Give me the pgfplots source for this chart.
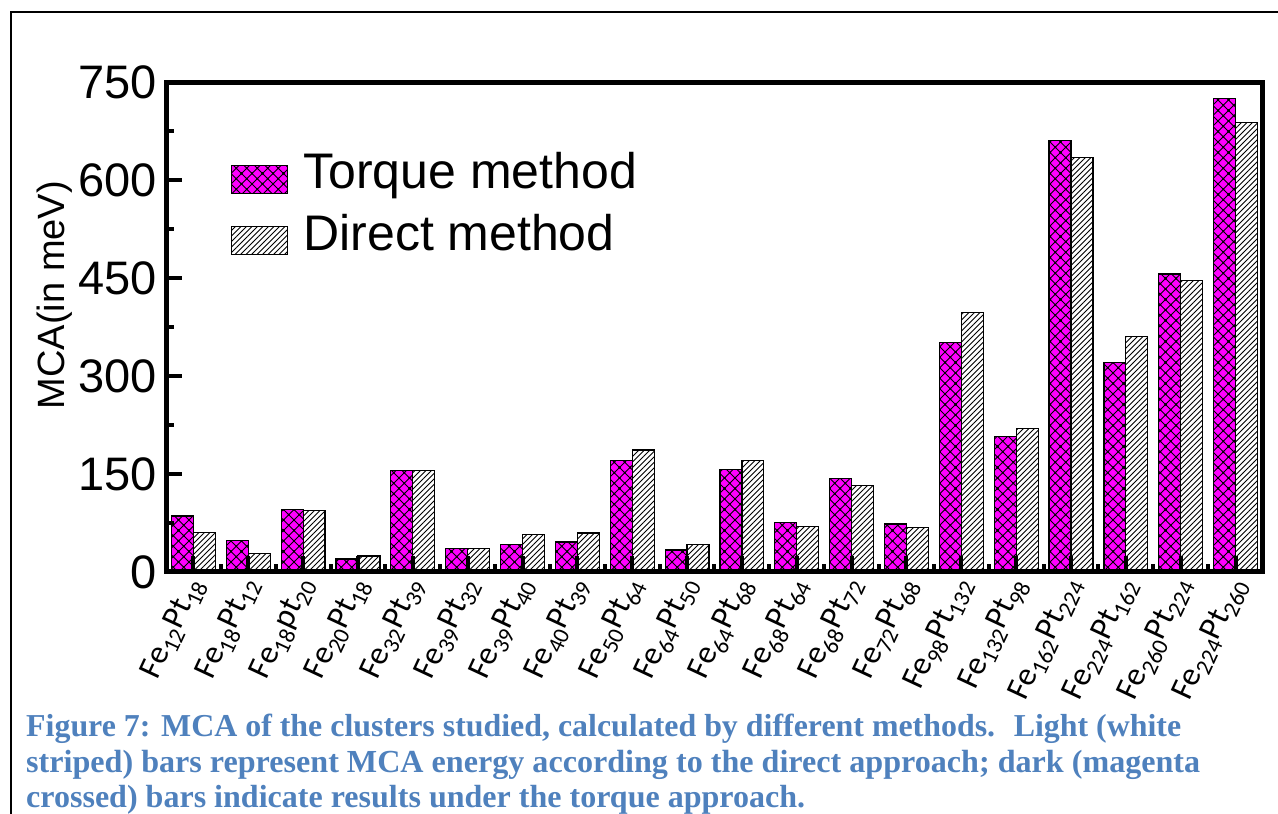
\documentclass[border=0pt]{standalone}
\usepackage{fontspec}
\setmainfont{Liberation Sans}
\newfontfamily\calib{Carlito}
\newfontfamily\capfont{Liberation Serif}
\usepackage{pgfplots}
\usepackage{pgfplotstable}
\pgfplotsset{compat=1.18}
\usetikzlibrary{patterns}
\definecolor{capblue}{HTML}{4F81BD}
\definecolor{mag}{HTML}{FF00FF}
\pgfdeclarepatternformonly{mycross}{\pgfqpoint{-1pt}{-1pt}}{\pgfqpoint{11.5pt}{11.5pt}}{\pgfqpoint{10.5pt}{10.5pt}}{%
  \pgfsetlinewidth{0.75pt}%
  \pgfpathmoveto{\pgfqpoint{-0.5pt}{-0.5pt}}\pgfpathlineto{\pgfqpoint{11pt}{11pt}}%
  \pgfpathmoveto{\pgfqpoint{-0.5pt}{11pt}}\pgfpathlineto{\pgfqpoint{11pt}{-0.5pt}}%
  \pgfusepath{stroke}%
  \pgfpathcircle{\pgfqpoint{5.25pt}{5.25pt}}{1.0pt}%
  \pgfpathcircle{\pgfqpoint{0pt}{0pt}}{1.0pt}%
  \pgfpathcircle{\pgfqpoint{10.5pt}{0pt}}{1.0pt}%
  \pgfpathcircle{\pgfqpoint{0pt}{10.5pt}}{1.0pt}%
  \pgfpathcircle{\pgfqpoint{10.5pt}{10.5pt}}{1.0pt}%
  \pgfusepath{fill}%
}
\pgfdeclarepatternformonly{mylines}{\pgfqpoint{-1pt}{-1pt}}{\pgfqpoint{6.5pt}{6.5pt}}{\pgfqpoint{5.5pt}{5.5pt}}{%
  \pgfsetlinewidth{0.75pt}%
  \pgfpathmoveto{\pgfqpoint{0pt}{0pt}}\pgfpathlineto{\pgfqpoint{5.6pt}{5.6pt}}%
  \pgfusepath{stroke}%
}
\pgfplotsset{boxlegend/.style={legend image code/.code={\draw[##1] (0pt,-22pt) rectangle (56pt,6pt);}}}

\pgfplotstableread{
x T D
0 85.7 60.2
1 47.9 28.6
2 96 93.8
3 19.9 24.5
4 155 155
5 35.7 35.7
6 41.8 57.7
7 45.9 59.7
8 170.4 186.7
9 33.7 42.4
10 156.6 171
11 75.5 70
12 142.8 133
13 73.5 67.8
14 351 397
15 208 220
16 660 635
17 321 361
18 456 446
19 725 688
}\datatable

\begin{document}
\begin{tikzpicture}
\useasboundingbox (0,0) rectangle (1278pt,814pt);
\draw[line width=2pt] (11pt,0pt) -- (11pt,802pt) -- (1278pt,802pt);
\begin{axis}[
  at={(166pt,242pt)}, anchor=south west,
  scale only axis, width=1097pt, height=490pt,
  xmin=-0.5, xmax=19.5, ymin=0, ymax=750,
  ytick={0,150,...,750},
  minor y tick num=1,
  xtick={0,...,19},
  minor xtick={0.5,1.5,...,18.5},
  xticklabels={Fe\textsubscript{12}Pt\textsubscript{18},Fe\textsubscript{18}Pt\textsubscript{12},Fe\textsubscript{18}pt\textsubscript{20},Fe\textsubscript{20}Pt\textsubscript{18},Fe\textsubscript{32}Pt\textsubscript{39},Fe\textsubscript{39}Pt\textsubscript{32},Fe\textsubscript{39}Pt\textsubscript{40},Fe\textsubscript{40}Pt\textsubscript{39},Fe\textsubscript{50}Pt\textsubscript{64},Fe\textsubscript{64}Pt\textsubscript{50},Fe\textsubscript{64}Pt\textsubscript{68},Fe\textsubscript{68}Pt\textsubscript{64},Fe\textsubscript{68}Pt\textsubscript{72},Fe\textsubscript{72}Pt\textsubscript{68},Fe\textsubscript{98}Pt\textsubscript{132},Fe\textsubscript{132}Pt\textsubscript{98},Fe\textsubscript{162}Pt\textsubscript{224},Fe\textsubscript{224}Pt\textsubscript{162},Fe\textsubscript{260}Pt\textsubscript{224},Fe\textsubscript{224}Pt\textsubscript{260}},
  tick align=inside,
  xtick pos=bottom, ytick pos=left,
  major tick length=16pt, minor tick length=8pt,
  major tick style={black, line width=4pt},
  minor tick style={black, line width=4pt},
  axis line style={line width=5pt},
  axis on top,
  /pgf/number format/assume math mode=true,
  yticklabel style={font=\fontsize{47}{47}\selectfont, inner sep=0pt, xshift=-9pt},
  xticklabel style={font=\calib\fontsize{33}{33}\selectfont, inner sep=0pt, xshift=3pt, yshift=-8pt, rotate=65, anchor=east},
  ylabel={MCA(in meV)},
  ylabel style={font=\fontsize{38}{38}\selectfont, at={(axis description cs:-0.1012,0.565)}, anchor=center},
  legend style={at={(axis description cs:0.0593,0.861)}, anchor=north west, draw=none, fill=none,
    font=\fontsize{50}{50}\selectfont, row sep=18pt, inner sep=0pt,
    /tikz/every odd column/.append style={column sep=13pt}},
  legend cell align=left,
]
\addplot[ybar, bar width=0.4, bar shift=-0.2, draw=black, line width=1.2pt,
  preaction={fill=mag}, pattern=mycross, pattern color=black,
  boxlegend]
  table[x=x, y=T] {\datatable};
\addlegendentry{Torque method}
\addplot[ybar, bar width=0.4, bar shift=0.2, draw=black, line width=1.2pt,
  preaction={fill=white}, pattern=mylines, pattern color=black,
  boxlegend]
  table[x=x, y=D] {\datatable};
\addlegendentry{Direct method}
\end{axis}
\node[anchor=base west, inner sep=0pt, text=capblue] at (26pt,77pt) {\resizebox{1155pt}{!}{\capfont\bfseries\fontsize{30}{30}\selectfont Figure 7: MCA of the clusters studied, calculated by different methods.~ Light (white}};
\node[anchor=base west, inner sep=0pt, text=capblue] at (26pt,41pt) {\resizebox{1174pt}{!}{\capfont\bfseries\fontsize{30}{30}\selectfont striped) bars represent MCA energy according to the direct approach; dark (magenta}};
\node[anchor=base west, inner sep=0pt, text=capblue] at (26pt,6pt) {\resizebox{779pt}{!}{\capfont\bfseries\fontsize{30}{30}\selectfont crossed) bars indicate results under the torque approach.}};
\end{tikzpicture}
\end{document}
